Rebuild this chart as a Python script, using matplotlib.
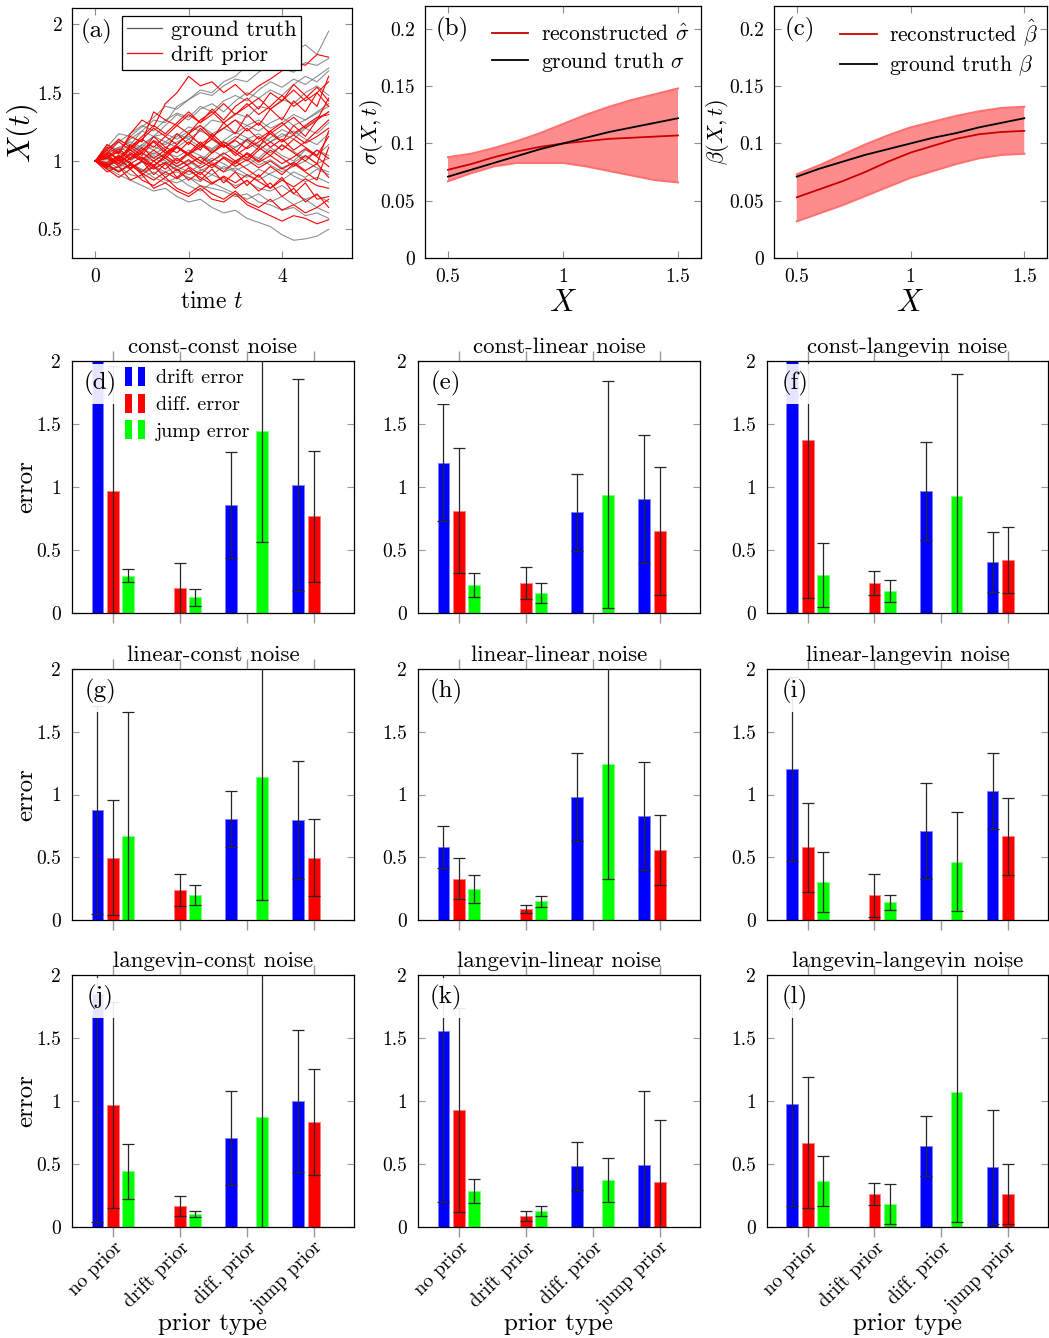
import numpy as np
import matplotlib
matplotlib.use('Agg')
import matplotlib.pyplot as plt
from matplotlib.patches import Rectangle
from matplotlib.legend_handler import HandlerBase
from matplotlib.ticker import FuncFormatter

nan = np.nan

# ---------------- panel (a): sample trajectories ----------------
t_grid = [0, 0.25, 0.5, 0.75, 1, 1.25, 1.5, 1.75, 2, 2.25, 2.5,
          2.75, 3, 3.25, 3.5, 3.75, 4, 4.25, 4.5, 4.75, 5]

gt_paths = [
    [1.00, 1.08, 1.15, 1.12, 1.22, 1.30, 1.28, 1.40, 1.45, 1.52, 1.50, 1.58, 1.62, 1.70, 1.66, 1.75, 1.72, 1.80, 1.85, 1.78, 1.95],
    [1.00, 0.95, 0.90, 0.86, 0.82, 0.78, 0.80, 0.74, 0.70, 0.72, 0.66, 0.62, 0.64, 0.58, 0.55, 0.52, 0.46, 0.42, 0.43, 0.45, 0.50],
    [1.00, 1.05, 1.02, 1.10, 1.08, 1.15, 1.12, 1.18, 1.25, 1.22, 1.30, 1.28, 1.35, 1.32, 1.40, 1.38, 1.45, 1.42, 1.50, 1.55, 1.48],
    [1.00, 0.97, 1.02, 0.98, 0.93, 0.96, 0.90, 0.92, 0.88, 0.85, 0.90, 0.86, 0.82, 0.85, 0.80, 0.78, 0.82, 0.76, 0.72, 0.75, 0.70],
    [1.00, 1.10, 1.20, 1.18, 1.25, 1.32, 1.40, 1.38, 1.45, 1.50, 1.48, 1.55, 1.60, 1.58, 1.65, 1.70, 1.68, 1.65, 1.72, 1.70, 1.75],
    [1.00, 1.02, 0.98, 1.04, 1.00, 1.06, 1.02, 0.98, 1.05, 1.00, 1.08, 1.03, 0.99, 1.06, 1.02, 1.10, 1.04, 1.00, 1.08, 1.04, 1.12],
    [1.00, 0.94, 0.96, 0.90, 0.88, 0.92, 0.86, 0.84, 0.88, 0.82, 0.80, 0.78, 0.74, 0.76, 0.70, 0.68, 0.64, 0.66, 0.60, 0.62, 0.58],
    [1.00, 1.06, 1.10, 1.14, 1.10, 1.18, 1.20, 1.16, 1.22, 1.26, 1.20, 1.24, 1.30, 1.26, 1.22, 1.28, 1.32, 1.26, 1.30, 1.35, 1.40],
    [1.00, 0.98, 1.04, 1.08, 1.02, 1.00, 1.06, 1.10, 1.04, 1.12, 1.08, 1.14, 1.10, 1.16, 1.20, 1.14, 1.18, 1.22, 1.16, 1.12, 1.20],
    [1.00, 1.04, 0.98, 0.94, 1.00, 0.96, 0.92, 0.96, 1.00, 0.94, 0.90, 0.96, 0.92, 0.88, 0.94, 0.90, 0.86, 0.92, 0.88, 0.94, 0.90],
    [1.00, 1.12, 1.08, 1.16, 1.22, 1.18, 1.26, 1.34, 1.30, 1.38, 1.42, 1.36, 1.44, 1.50, 1.46, 1.52, 1.48, 1.56, 1.62, 1.58, 1.66],
    [1.00, 0.96, 0.92, 0.98, 0.94, 0.88, 0.84, 0.88, 0.82, 0.78, 0.84, 0.80, 0.76, 0.72, 0.76, 0.70, 0.74, 0.68, 0.72, 0.66, 0.62],
    [1.00, 1.02, 1.08, 1.04, 1.12, 1.08, 1.14, 1.20, 1.16, 1.10, 1.16, 1.12, 1.18, 1.14, 1.08, 1.14, 1.20, 1.16, 1.24, 1.20, 1.28],
    [1.00, 0.99, 0.95, 1.00, 1.06, 1.02, 0.98, 1.02, 0.97, 1.03, 0.99, 0.94, 0.98, 1.03, 0.97, 1.01, 0.95, 0.99, 1.04, 0.98, 1.02],
    [1.00, 1.05, 1.10, 1.06, 1.12, 1.18, 1.14, 1.10, 1.16, 1.22, 1.18, 1.24, 1.20, 1.26, 1.30, 1.24, 1.28, 1.34, 1.30, 1.36, 1.42],
    [1.00, 0.97, 0.93, 0.97, 0.92, 0.95, 0.99, 0.94, 0.90, 0.93, 0.97, 0.92, 0.95, 0.90, 0.86, 0.91, 0.95, 0.89, 0.85, 0.88, 0.84],
    [1.00, 1.03, 1.07, 1.12, 1.09, 1.05, 1.10, 1.14, 1.18, 1.13, 1.09, 1.15, 1.21, 1.17, 1.12, 1.06, 1.11, 1.07, 1.02, 1.08, 1.04],
    [1.00, 1.01, 0.97, 1.02, 1.07, 1.11, 1.06, 1.03, 1.08, 1.04, 1.00, 1.05, 1.10, 1.15, 1.11, 1.17, 1.23, 1.19, 1.25, 1.31, 1.36],
    [1.00, 0.96, 1.00, 0.95, 0.99, 1.04, 1.00, 0.96, 0.92, 0.97, 1.02, 0.98, 0.93, 0.97, 1.02, 0.97, 0.92, 0.96, 1.00, 0.95, 0.92],
    [1.00, 1.09, 1.14, 1.20, 1.26, 1.22, 1.30, 1.35, 1.32, 1.40, 1.36, 1.44, 1.48, 1.44, 1.52, 1.58, 1.54, 1.60, 1.56, 1.62, 1.68],
]

prior_paths = [
    [1.00, 1.10, 1.05, 1.20, 1.30, 1.25, 1.42, 1.50, 1.62, 1.55, 1.58, 1.50, 1.56, 1.48, 1.55, 1.60, 1.66, 1.74, 1.70, 1.78, 1.76],
    [1.00, 0.92, 0.96, 0.86, 0.90, 0.80, 0.84, 0.78, 0.74, 0.80, 0.72, 0.70, 0.76, 0.68, 0.64, 0.60, 0.56, 0.60, 0.58, 0.54, 0.57],
    [1.00, 1.05, 0.98, 1.10, 1.04, 1.15, 1.08, 1.20, 1.12, 1.24, 1.16, 1.28, 1.20, 1.34, 1.26, 1.38, 1.30, 1.44, 1.36, 1.50, 1.58],
    [1.00, 0.95, 1.03, 0.94, 1.00, 0.90, 0.98, 0.88, 0.95, 0.86, 0.94, 0.84, 0.92, 0.82, 0.90, 0.80, 0.88, 0.76, 0.84, 0.72, 0.74],
    [1.00, 1.08, 1.00, 1.12, 1.06, 1.18, 1.10, 1.06, 1.14, 1.08, 1.20, 1.12, 1.06, 1.16, 1.10, 1.22, 1.14, 1.26, 1.18, 1.30, 1.46],
    [1.00, 0.97, 1.04, 0.99, 0.92, 1.00, 0.94, 1.02, 0.96, 0.90, 0.98, 0.92, 1.00, 0.94, 0.88, 0.96, 0.90, 0.98, 0.92, 0.86, 1.10],
    [1.00, 1.04, 0.96, 1.02, 1.10, 1.02, 1.08, 1.00, 1.06, 1.14, 1.06, 1.12, 1.04, 1.10, 1.18, 1.10, 1.16, 1.08, 1.14, 1.22, 1.30],
    [1.00, 0.94, 0.88, 0.94, 0.86, 0.82, 0.88, 0.80, 0.76, 0.82, 0.76, 0.72, 0.78, 0.70, 0.66, 0.72, 0.64, 0.68, 0.62, 0.66, 0.72],
    [1.00, 1.06, 1.14, 1.08, 1.16, 1.24, 1.18, 1.26, 1.20, 1.30, 1.36, 1.28, 1.34, 1.42, 1.34, 1.40, 1.48, 1.40, 1.46, 1.54, 1.44],
    [1.00, 1.02, 0.98, 1.05, 1.00, 0.96, 1.04, 0.98, 1.06, 1.00, 0.95, 1.03, 0.98, 1.06, 1.00, 1.08, 1.02, 0.96, 1.04, 0.98, 1.22],
    [1.00, 0.96, 1.02, 1.08, 1.02, 0.96, 1.04, 1.10, 1.04, 0.98, 1.06, 1.12, 1.06, 1.00, 1.08, 1.14, 1.08, 1.16, 1.10, 1.04, 1.18],
    [1.00, 0.98, 0.92, 0.98, 0.90, 0.96, 0.88, 0.94, 0.86, 0.92, 0.84, 0.88, 0.80, 0.86, 0.78, 0.84, 0.74, 0.80, 0.70, 0.76, 0.66],
    [1.00, 1.12, 1.06, 1.18, 1.14, 1.36, 1.30, 1.26, 1.34, 1.28, 1.38, 1.30, 1.40, 1.46, 1.38, 1.50, 1.44, 1.56, 1.48, 1.40, 1.62],
    [1.00, 1.03, 1.09, 1.02, 1.08, 1.14, 1.06, 1.12, 1.20, 1.12, 1.18, 1.10, 1.16, 1.24, 1.16, 1.22, 1.28, 1.20, 1.26, 1.32, 1.34],
    [1.00, 1.03, 0.98, 1.06, 1.01, 1.08, 1.02, 1.10, 1.05, 1.12, 1.06, 1.14, 1.08, 1.02, 1.10, 1.04, 1.12, 1.06, 1.00, 1.08, 1.02],
    [1.00, 0.96, 1.01, 0.95, 1.00, 0.94, 0.99, 0.93, 0.98, 1.03, 0.97, 1.02, 0.96, 1.01, 0.95, 1.00, 0.94, 0.99, 0.93, 0.98, 0.88],
    [1.00, 1.06, 1.02, 1.10, 1.16, 1.10, 1.18, 1.12, 1.20, 1.26, 1.18, 1.24, 1.30, 1.22, 1.28, 1.20, 1.26, 1.32, 1.24, 1.30, 1.36],
    [1.00, 0.97, 0.92, 0.97, 0.91, 0.86, 0.92, 0.87, 0.93, 0.88, 0.83, 0.89, 0.84, 0.90, 0.85, 0.80, 0.86, 0.81, 0.87, 0.82, 0.80],
    [1.00, 1.02, 1.07, 1.01, 1.06, 1.00, 1.05, 1.11, 1.05, 1.10, 1.16, 1.10, 1.15, 1.09, 1.14, 1.20, 1.14, 1.19, 1.13, 1.18, 1.24],
    [1.00, 0.99, 1.04, 0.98, 1.03, 0.97, 1.02, 0.96, 1.01, 0.95, 1.00, 1.06, 1.00, 1.05, 0.99, 1.04, 0.98, 1.03, 1.09, 1.03, 0.96],
    [1.00, 1.08, 1.16, 1.10, 1.18, 1.26, 1.20, 1.28, 1.36, 1.28, 1.34, 1.42, 1.34, 1.40, 1.46, 1.38, 1.44, 1.52, 1.44, 1.50, 1.40],
]

# ---------------- panels (b), (c) ----------------
x_state = [0.5, 0.6, 0.7, 0.8, 0.9, 1.0, 1.1, 1.2, 1.3, 1.4, 1.5]
sigma_true = [0.071, 0.077, 0.083, 0.089, 0.095, 0.100, 0.105, 0.110, 0.114, 0.118, 0.122]
sigma_rec = [0.077, 0.082, 0.088, 0.093, 0.097, 0.100, 0.102, 0.104, 0.105, 0.106, 0.107]
sigma_hi = [0.088, 0.091, 0.096, 0.102, 0.109, 0.117, 0.125, 0.132, 0.138, 0.143, 0.148]
sigma_lo = [0.067, 0.074, 0.080, 0.083, 0.083, 0.083, 0.080, 0.076, 0.072, 0.068, 0.066]

beta_true = [0.071, 0.078, 0.084, 0.090, 0.095, 0.100, 0.105, 0.109, 0.114, 0.118, 0.122]
beta_rec = [0.053, 0.060, 0.067, 0.075, 0.084, 0.092, 0.098, 0.104, 0.108, 0.110, 0.111]
beta_hi = [0.073, 0.081, 0.090, 0.099, 0.107, 0.114, 0.119, 0.124, 0.128, 0.131, 0.132]
beta_lo = [0.032, 0.039, 0.046, 0.054, 0.062, 0.070, 0.076, 0.082, 0.087, 0.090, 0.091]

# ---------------- error bars (d)-(l) ----------------
priors = ['no prior', 'drift prior', 'diff. prior', 'jump prior']
err_names = ['drift error', 'diff. error', 'jump error']
# rows: drift, diff, jump error; columns: prior types
cc_mean = [[4.0, nan, 0.859, 1.015], [0.97, 0.198, nan, 0.769], [0.296, 0.124, 1.443, nan]]
cc_sd = [[1.5, nan, 0.42, 0.84], [0.99, 0.198, nan, 0.52], [0.053, 0.067, 0.88, nan]]
cl_mean = [[1.194, nan, 0.798, 0.904], [0.811, 0.240, nan, 0.650], [0.222, 0.159, 0.938, nan]]
cl_sd = [[0.466, nan, 0.305, 0.51], [0.495, 0.125, nan, 0.51], [0.094, 0.08, 0.9, nan]]
cg_mean = [[4.0, nan, 0.97, 0.404], [1.371, 0.235, nan, 0.42], [0.304, 0.177, 0.93, nan]]
cg_sd = [[1.5, nan, 0.39, 0.238], [1.255, 0.095, nan, 0.26], [0.255, 0.086, 0.97, nan]]
lc_mean = [[0.879, nan, 0.807, 0.797], [0.497, 0.239, nan, 0.497], [0.669, 0.197, 1.137, nan]]
lc_sd = [[0.83, nan, 0.223, 0.47], [0.457, 0.13, nan, 0.307], [0.99, 0.08, 0.98, nan]]
ll_mean = [[0.582, nan, 0.977, 0.826], [0.329, 0.085, nan, 0.558], [0.247, 0.149, 1.243, nan]]
ll_sd = [[0.165, nan, 0.35, 0.43], [0.162, 0.032, nan, 0.28], [0.112, 0.044, 0.914, nan]]
lg_mean = [[1.203, nan, 0.709, 1.028], [0.579, 0.197, nan, 0.669], [0.303, 0.143, 0.465, nan]]
lg_sd = [[0.73, nan, 0.38, 0.30], [0.357, 0.17, nan, 0.307], [0.238, 0.06, 0.395, nan]]
gc_mean = [[1.849, nan, 0.709, 1.0], [0.968, 0.169, nan, 0.831], [0.442, 0.103, 0.873, nan]]
gc_sd = [[1.81, nan, 0.372, 0.566], [0.82, 0.08, nan, 0.42], [0.22, 0.021, 1.2, nan]]
gl_mean = [[1.558, nan, 0.484, 0.495], [0.931, 0.087, nan, 0.36], [0.288, 0.13, 0.373, nan]]
gl_sd = [[1.36, nan, 0.193, 0.585], [0.81, 0.037, nan, 0.487], [0.096, 0.04, 0.178, nan]]
gg_mean = [[0.976, nan, 0.643, 0.476], [0.667, 0.262, nan, 0.262], [0.365, 0.183, 1.071, nan]]
gg_sd = [[0.81, nan, 0.235, 0.45], [0.52, 0.085, nan, 0.24], [0.2, 0.16, 1.03, nan]]

panel_titles = ['const-const noise', 'const-linear noise', 'const-langevin noise',
                'linear-const noise', 'linear-linear noise', 'linear-langevin noise',
                'langevin-const noise', 'langevin-linear noise', 'langevin-langevin noise']
panel_means = [cc_mean, cl_mean, cg_mean, lc_mean, ll_mean, lg_mean, gc_mean, gl_mean, gg_mean]
panel_sds = [cc_sd, cl_sd, cg_sd, lc_sd, ll_sd, lg_sd, gc_sd, gl_sd, gg_sd]
panel_tags = ['(d)', '(e)', '(f)', '(g)', '(h)', '(i)', '(j)', '(k)', '(l)']

# ---------------- style ----------------
plt.rcParams['font.family'] = ['cmr10', 'DejaVu Serif']
plt.rcParams['mathtext.fontset'] = 'cm'
plt.rcParams['axes.unicode_minus'] = False
plt.rcParams['axes.linewidth'] = 0.9

W, H = 1049, 1338
fig = plt.figure(figsize=(W / 100, H / 100), dpi=100)


def add_ax(l, r, t, b):
    return fig.add_axes([l / W, 1 - b / H, (r - l) / W, (b - t) / H])


fmt = FuncFormatter(lambda v, p: f'{v:g}')
TICK = 14


def style_line_ax(ax):
    ax.tick_params(direction='in', top=True, right=True, color='0.55',
                   length=5, width=0.8, labelsize=TICK, labelcolor='black', pad=7)
    ax.xaxis.set_major_formatter(fmt)
    ax.yaxis.set_major_formatter(fmt)


# (a)
ax = add_ax(72, 352, 8, 258)
for p in gt_paths:
    ax.plot(t_grid, p, color='0.45', lw=0.8, alpha=0.8)
for p in prior_paths:
    ax.plot(t_grid, p, color='#ff0000', lw=0.8)
ax.plot([], [], color='0.35', lw=0.9, label='ground truth')
ax.plot([], [], color='#ff0000', lw=0.9, label='drift prior')
ax.set_xlim(-0.5, 5.5)
ax.set_ylim(0.29, 2.12)
ax.set_xticks([0, 2, 4])
ax.set_yticks([0.5, 1, 1.5, 2])
style_line_ax(ax)
ax.set_xlabel('time $t$', fontsize=17, labelpad=4)
ax.set_ylabel('$X(t)$', fontsize=22, labelpad=-2)
ax.text(0.03, 0.955, '(a)', transform=ax.transAxes, fontsize=18, va='top', ha='left')
leg = ax.legend(loc='upper left', bbox_to_anchor=(0.18, 0.968), fontsize=16,
                frameon=True, fancybox=False, edgecolor='black', framealpha=1,
                handlelength=1.6, handletextpad=0.4, borderpad=0.2, labelspacing=0.25,
                borderaxespad=0)
leg.get_frame().set_linewidth(0.9)

# (b), (c)
for (l, r), tag, true, rec, hi, lo, sym, top, lpad in [
        ((425, 701), '(b)', sigma_true, sigma_rec, sigma_hi, sigma_lo, r'\sigma', 0.965, -3),
        ((774, 1047), '(c)', beta_true, beta_rec, beta_hi, beta_lo, r'\beta', 0.99, -1)]:
    ax = add_ax(l, r, 6, 258)
    ax.fill_between(x_state, lo, hi, facecolor='#ff8c8c', edgecolor='none', zorder=1)
    ax.plot(x_state, hi, color='#ff7070', lw=1.5, zorder=1)
    ax.plot(x_state, lo, color='#ff7070', lw=1.5, zorder=1)
    ax.plot(x_state, rec, color='#c80000', lw=1.3, zorder=3,
            label=r'reconstructed $\hat{%s}$' % sym)
    ax.plot(x_state, true, color='black', lw=1.3, zorder=3,
            label=r'ground truth $%s$' % sym)
    ax.set_xlim(0.4, 1.6)
    ax.set_ylim(0, 0.22)
    ax.set_xticks([0.5, 1, 1.5])
    ax.set_yticks([0, 0.05, 0.1, 0.15, 0.2])
    style_line_ax(ax)
    ax.set_xlabel('$X$', fontsize=22, labelpad=3)
    ax.set_ylabel(r'$%s(X,t)$' % sym, fontsize=16, labelpad=lpad)
    ax.text(0.04, 0.955, tag, transform=ax.transAxes, fontsize=18, va='top', ha='left')
    ax.legend(loc='upper left', bbox_to_anchor=(0.21, top), fontsize=15.5, frameon=False,
              handlelength=1.7, handletextpad=0.6, labelspacing=0.25, borderaxespad=0)


# bar panels
class TwoBars(HandlerBase):
    def create_artists(self, legend, orig_handle, xdescent, ydescent, width,
                       height, fontsize, trans):
        arts = []
        bw = width * 0.3
        for x0 in (0, width * 0.55):
            arts.append(Rectangle((x0 - xdescent, -ydescent - 0.2 * height), bw, 1.35 * height,
                                  facecolor=orig_handle.get_facecolor(), edgecolor='none',
                                  transform=trans))
        return arts


bar_cols = ['#0000ff', '#ff0000', '#00ff00']
bar_edges = ['#7f7fff', '#ff8080', '#80ff80']
offsets = [-0.231, 0.0, 0.231]
xpos = np.arange(len(priors))

cols_px = [(72, 354), (418, 700), (767, 1048)]
rows_px = [(361, 613), (669, 920), (975, 1227)]

for i in range(9):
    r, c = divmod(i, 3)
    ax = add_ax(cols_px[c][0], cols_px[c][1], rows_px[r][0], rows_px[r][1])
    means, sds = panel_means[i], panel_sds[i]
    for k in range(3):
        xs = xpos + offsets[k]
        ax.bar(xs, means[k], width=0.175, color=bar_cols[k], edgecolor=bar_edges[k],
               linewidth=0.7, zorder=2, label=err_names[k])
        ax.errorbar(xs, means[k], yerr=sds[k], fmt='none', ecolor='0.15',
                    elinewidth=0.9, capsize=4, capthick=0.9, zorder=3)
    ax.set_xlim(-0.61, 3.6)
    ax.set_ylim(0, 2)
    ax.set_yticks([0, 0.5, 1, 1.5, 2])
    ax.yaxis.set_major_formatter(fmt)
    ax.set_xticks(xpos)
    ax.tick_params(axis='x', direction='out', top=True, bottom=True, color='0.6',
                   length=7, width=1.0, pad=1)
    ax.tick_params(axis='y', direction='in', left=True, right=True, color='0.6',
                   length=5, width=0.8, labelsize=TICK, pad=8)
    ax.set_title(panel_titles[i], fontsize=16.5, pad=6)
    if r == 2:
        ax.set_xticklabels(priors, rotation=45, ha='right', rotation_mode='anchor',
                           fontsize=14)
        ax.set_xlabel('prior type', fontsize=18, labelpad=-2)
    else:
        ax.set_xticklabels([])
    if c == 0:
        ax.set_ylabel('error', fontsize=18, labelpad=-1)
    ax.text(0.1, 0.91, panel_tags[i], transform=ax.transAxes, fontsize=18,
            ha='center', va='center', zorder=5,
            bbox=dict(boxstyle='square,pad=0.3', facecolor='white', edgecolor='none',
                      alpha=0.9))
    if i == 0:
        handles = [Rectangle((0, 0), 1, 1, facecolor=col) for col in bar_cols]
        lg = ax.legend(handles, err_names, loc='upper left', bbox_to_anchor=(0.18, 0.975),
                       fontsize=14.5, frameon=True, facecolor='white', edgecolor='none',
                       framealpha=1, fancybox=False, handlelength=1.2, handletextpad=0.35,
                       labelspacing=0.42, borderpad=0.1, borderaxespad=0,
                       handler_map={h: TwoBars() for h in handles})
        lg.set_zorder(6)

fig.savefig('out.png', dpi=100)
